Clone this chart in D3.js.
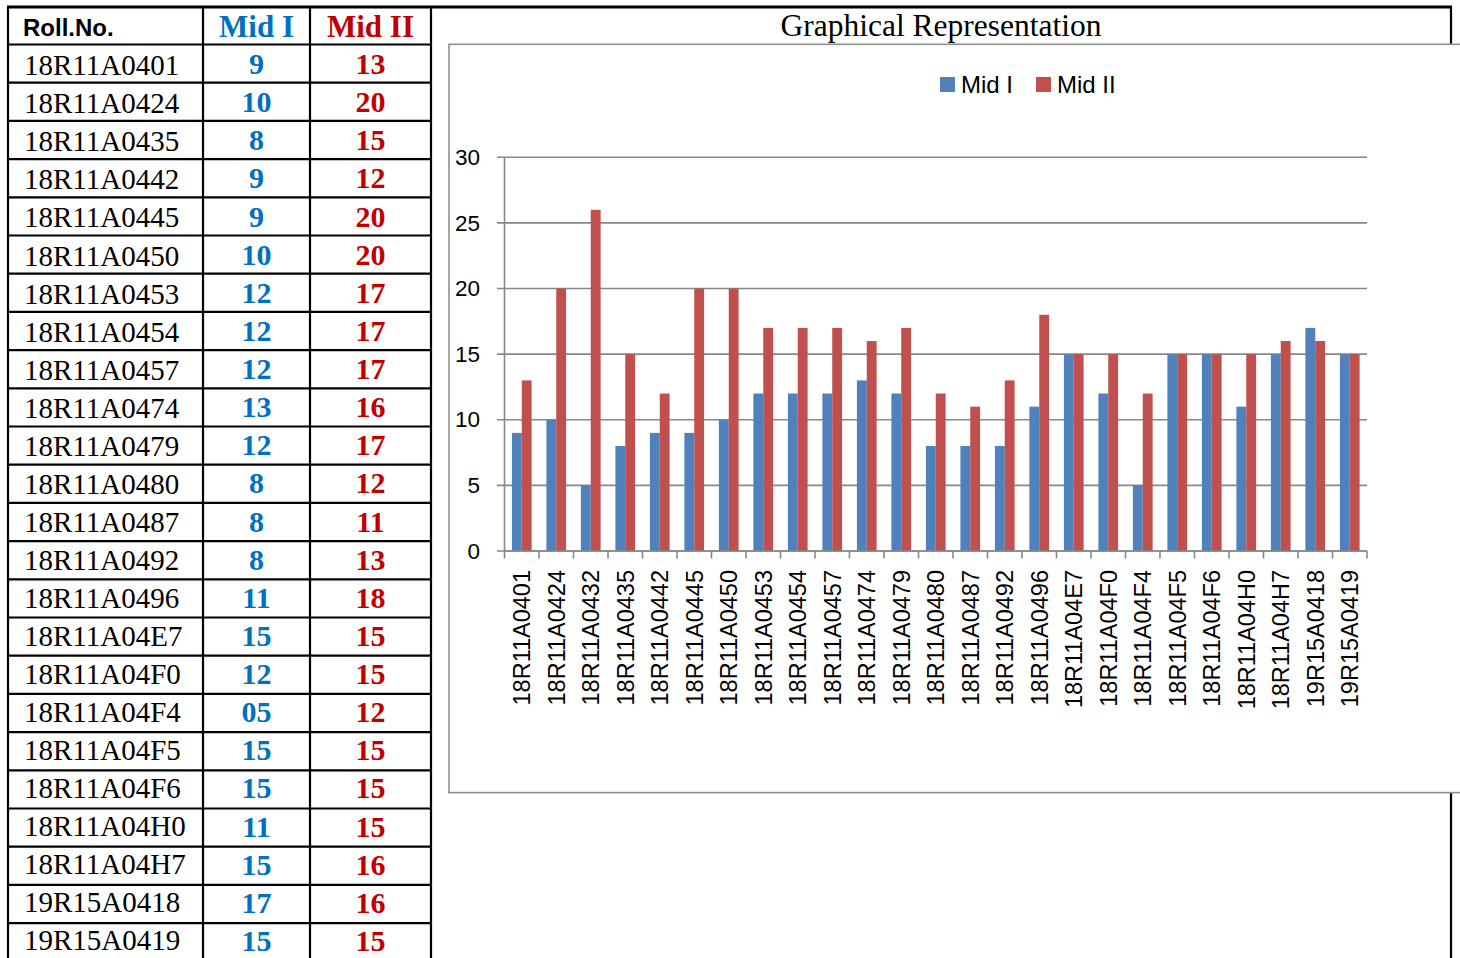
<!DOCTYPE html>
<html>
<head>
<meta charset="utf-8">
<script src="https://cdn.jsdelivr.net/npm/d3@7"></script>
<style>
  html, body { margin: 0; padding: 0; background: #fff; }
  svg { display: block; }
</style>
</head>
<body>
<svg id="chart" width="1460" height="958"></svg>
<script>
// ---------- table data ----------
const tableHeaders = ["Roll.No.", "Mid I", "Mid II"];
const tableRolls = ["18R11A0401","18R11A0424","18R11A0435","18R11A0442","18R11A0445","18R11A0450",
  "18R11A0453","18R11A0454","18R11A0457","18R11A0474","18R11A0479","18R11A0480","18R11A0487",
  "18R11A0492","18R11A0496","18R11A04E7","18R11A04F0","18R11A04F4","18R11A04F5","18R11A04F6",
  "18R11A04H0","18R11A04H7","19R15A0418","19R15A0419"];
const tableMid1 = ["9","10","8","9","9","10","12","12","12","13","12","8","8","8","11","15","12","05","15","15","11","15","17","15"];
const tableMid2 = ["13","20","15","12","20","20","17","17","17","16","17","12","11","13","18","15","15","12","15","15","15","16","16","15"];

// ---------- chart data ----------
const chartTitle = "Graphical Representation";
const chartRolls = ["18R11A0401","18R11A0424","18R11A0432","18R11A0435","18R11A0442","18R11A0445",
  "18R11A0450","18R11A0453","18R11A0454","18R11A0457","18R11A0474","18R11A0479","18R11A0480",
  "18R11A0487","18R11A0492","18R11A0496","18R11A04E7","18R11A04F0","18R11A04F4","18R11A04F5",
  "18R11A04F6","18R11A04H0","18R11A04H7","19R15A0418","19R15A0419"];
const seriesNames = ["Mid I", "Mid II"];
const mid1Values = [9,10,5,8,9,9,10,12,12,12,13,12,8,8,8,11,15,12,5,15,15,11,15,17,15];
const mid2Values = [13,20,26,15,12,20,20,17,17,17,16,17,12,11,13,18,15,15,12,15,15,15,16,16,15];
const yTicks = [0,5,10,15,20,25,30];

const seriesColors = ["#4F81BD", "#C0504D"];
const tableBlue = "#0070C0", tableRed = "#C00000";

const svg = d3.select("#chart");
svg.append("rect").attr("width",1460).attr("height",958).attr("fill","#fff");

// ---------- table ----------
const colX = [8, 203, 310, 431];
const graphRight = 1451;
const tblTop = 7;
const rowScale = d3.scaleLinear().domain([0, tableRolls.length]).range([44.5, 44.5 + tableRolls.length*38.2]);

const tbl = svg.append("g");
[...colX, graphRight].forEach(x => {
  tbl.append("line").attr("x1",x).attr("x2",x).attr("y1",tblTop).attr("y2",958)
    .attr("stroke","#000").attr("stroke-width",2.2);
});
tbl.append("line").attr("x1",colX[0]-1).attr("x2",graphRight+1).attr("y1",tblTop).attr("y2",tblTop)
  .attr("stroke","#000").attr("stroke-width",2.8);
d3.range(tableRolls.length).forEach(i => {
  tbl.append("line").attr("x1",colX[0]-1).attr("x2",colX[3]+1)
    .attr("y1",rowScale(i)).attr("y2",rowScale(i))
    .attr("stroke","#000").attr("stroke-width",2.2);
});
tbl.append("text").attr("x",23).attr("y",35.5).text(tableHeaders[0])
  .attr("font-family","Liberation Sans, Arial, sans-serif").attr("font-weight","bold").attr("font-size",24).attr("fill","#000");
tbl.append("text").attr("x",(colX[1]+colX[2])/2).attr("y",36.5).attr("text-anchor","middle").text(tableHeaders[1])
  .attr("font-family","Liberation Serif, Times New Roman, serif").attr("font-weight","bold").attr("font-size",31).attr("fill",tableBlue);
tbl.append("text").attr("x",(colX[2]+colX[3])/2).attr("y",36.5).attr("text-anchor","middle").text(tableHeaders[2])
  .attr("font-family","Liberation Serif, Times New Roman, serif").attr("font-weight","bold").attr("font-size",31).attr("fill",tableRed);

const rows = tbl.selectAll("g.row").data(tableRolls).join("g").attr("class","row")
  .attr("transform",(d,i)=>`translate(0,${rowScale(i)})`);
rows.append("text").attr("x",24).attr("y",(d,i)=>30.8 - i*0.15).text(d=>d)
  .attr("font-family","Liberation Serif, Times New Roman, serif").attr("font-size",29).attr("fill","#000");
rows.append("text").attr("x",(colX[1]+colX[2])/2).attr("y",(d,i)=>29.5 - i*0.07).attr("text-anchor","middle")
  .text((d,i)=>tableMid1[i])
  .attr("font-family","Liberation Serif, Times New Roman, serif").attr("font-weight","bold").attr("font-size",30).attr("fill",tableBlue);
rows.append("text").attr("x",(colX[2]+colX[3])/2).attr("y",(d,i)=>29.5 - i*0.07).attr("text-anchor","middle")
  .text((d,i)=>tableMid2[i])
  .attr("font-family","Liberation Serif, Times New Roman, serif").attr("font-weight","bold").attr("font-size",30).attr("fill",tableRed);

svg.append("text").attr("x",(colX[3]+graphRight)/2).attr("y",36).attr("text-anchor","middle")
  .text(chartTitle)
  .attr("font-family","Liberation Serif, Times New Roman, serif").attr("font-size",31.5).attr("fill","#000");

// ---------- chart box ----------
svg.append("rect").attr("x",449).attr("y",44.3).attr("width",1100).attr("height",748.3)
  .attr("fill","#fff").attr("stroke","#8f8f8f").attr("stroke-width",1.6);

const plotLeft = 504.5, plotRight = 1367, plotTop = 157.3, plotBottom = 551;
const y = d3.scaleLinear().domain([0,30]).range([plotBottom, plotTop]);
const x0 = d3.scaleBand().domain(chartRolls).range([plotLeft, plotRight])
  .paddingInner(0.4286).paddingOuter(0.2143);
const x1 = d3.scaleBand().domain(seriesNames).range([0, x0.bandwidth()]);
const xb = d3.scaleLinear().domain([0, chartRolls.length]).range([plotLeft, plotRight]);

const g = svg.append("g");
const chartFont = "Liberation Sans, Arial, sans-serif";

g.append("g").selectAll("line").data(yTicks).join("line")
  .attr("x1", plotLeft - 7.5).attr("x2", plotRight)
  .attr("y1", d=>y(d)).attr("y2", d=>y(d))
  .attr("stroke","#888").attr("stroke-width",1.6);

const yAxis = d3.axisLeft(y).tickValues(yTicks).tickSize(0).tickPadding(24.5).tickSizeOuter(0);
const yg = g.append("g").attr("transform",`translate(${plotLeft},0)`).call(yAxis);
yg.select(".domain").remove();
yg.selectAll("text").attr("font-family",chartFont).attr("font-size",22.5).attr("fill","#000");

g.append("line").attr("x1",plotLeft).attr("x2",plotLeft).attr("y1",plotTop).attr("y2",plotBottom)
  .attr("stroke","#888").attr("stroke-width",1.6);

const series = [mid1Values, mid2Values];
const barG = g.append("g");
seriesNames.forEach((name, si) => {
  barG.append("g").selectAll("rect").data(chartRolls).join("rect")
    .attr("x", d => x0(d) + x1(name))
    .attr("width", x1.bandwidth())
    .attr("y", (d,i) => y(series[si][i]))
    .attr("height", (d,i) => y(0) - y(series[si][i]))
    .attr("fill", seriesColors[si]);
});

g.append("line").attr("x1",plotLeft).attr("x2",plotRight).attr("y1",plotBottom).attr("y2",plotBottom)
  .attr("stroke","#888").attr("stroke-width",1.6);
g.append("g").selectAll("line").data(d3.range(chartRolls.length+1)).join("line")
  .attr("x1",d=>xb(d)).attr("x2",d=>xb(d)).attr("y1",plotBottom).attr("y2",plotBottom+7.5)
  .attr("stroke","#888").attr("stroke-width",1.6);

const xAxis = d3.axisBottom(x0).tickSize(0).tickPadding(0);
const xg = g.append("g").attr("transform",`translate(0,${plotBottom})`).call(xAxis);
xg.select(".domain").remove();
xg.selectAll("text")
  .attr("font-family",chartFont).attr("font-size",23.5).attr("fill","#000")
  .attr("text-anchor","end")
  .attr("transform","rotate(-90)")
  .attr("x",-19).attr("y",0).attr("dy","0.36em");

const legendX = [940, 1036];
const lg = svg.append("g").selectAll("g").data(seriesNames).join("g")
  .attr("transform",(d,i)=>`translate(${legendX[i]},77)`);
lg.append("rect").attr("width",15).attr("height",15).attr("fill",(d,i)=>seriesColors[i]);
lg.append("text").attr("x",21).attr("y",15.5).text(d=>d)
  .attr("font-family",chartFont).attr("font-size",24).attr("fill","#000");
</script>
</body>
</html>
